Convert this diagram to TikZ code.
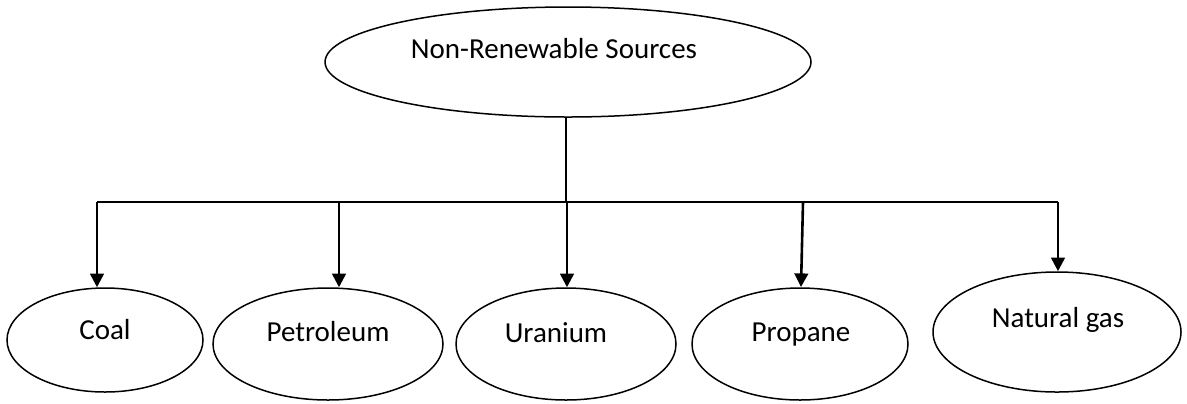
\documentclass[tikz,border=0pt]{standalone}
\usepackage{fontspec}
\setmainfont{Carlito}
\usetikzlibrary{shapes.geometric,arrows.meta}
\tikzset{
  src/.style={draw=black,ellipse,line width=0.75pt,inner sep=0pt},
  lbl/.style={anchor=base,inner sep=0pt,font=\fontsize{14.5}{17}\selectfont},
  feed/.style={line width=1.3pt,-{Triangle[width=6.8pt,length=6.8pt]}},
  bar/.style={line width=1pt},
}
\begin{document}
\begin{tikzpicture}[x=0.5pt,y=-0.5pt]
\useasboundingbox (0,0) rectangle (1187,403);

% root
\node[src,minimum width=243pt,minimum height=55pt] (root) at (568,62) {};
\node[lbl] (rootT) at (554,58) {Non-Renewable Sources};

% leaves
\node[src,minimum width=98pt,minimum height=52pt]  (coal) at (105,340) {};
\node[src,minimum width=115pt,minimum height=56pt] (petr) at (328,344) {};
\node[src,minimum width=110pt,minimum height=56pt] (uran) at (566,344) {};
\node[src,minimum width=108pt,minimum height=56pt] (prop) at (800,344) {};
\node[src,minimum width=124pt,minimum height=60pt] (ngas) at (1057,332) {};

\node[lbl] (coalT) at (105,339) {Coal};
\node[lbl] (petrT) at (328,341) {Petroleum};
\node[lbl] (uranT) at (556,342) {Uranium};
\node[lbl] (propT) at (801,341) {Propane};
\node[lbl] (ngasT) at (1058,327) {Natural gas};

% distribution bar
\coordinate (j)  at (566,202);
\coordinate (b1) at (97,202);
\coordinate (b2) at (339,202);
\coordinate (b3) at (567,202);
\coordinate (b4) at (803,202);
\coordinate (b5) at (1058,202);
\coordinate (t4) at (801,287);

\draw[line width=0.75pt] (root.south -| j) -- (j);
\draw[bar] (b1) -- (b5);

\draw[feed] (b1) -- (b1 |- coal.north);
\draw[feed] (b2) -- (b2 |- petr.north);
\draw[feed] (b3) -- (b3 |- uran.north);
\draw[feed] (b4) -- (t4);
\draw[feed] (b5) -- (b5 |- ngas.north);
\end{tikzpicture}
\end{document}
